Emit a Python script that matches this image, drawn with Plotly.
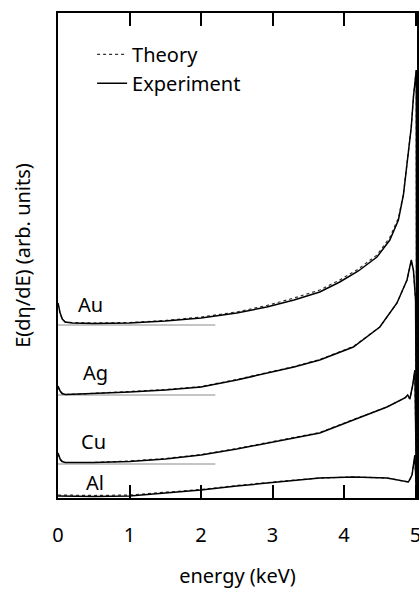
import plotly.graph_objects as go

FONT = "Noto Sans"

# energy grid points (keV) and curve heights (arb. units)
au_e = [0.00, 0.03, 0.06, 0.10, 0.2, 0.5, 1.0, 1.5, 2.0, 2.5, 2.92, 3.3, 3.66, 3.94, 4.2, 4.46, 4.64, 4.76, 4.83, 4.88, 4.94, 4.97, 4.99, 5.01, 5.015]
au_exp = [195, 185, 179, 176, 175, 174.5, 175, 177, 180, 185, 191, 198, 206, 216, 227, 241, 258, 278, 303, 336, 371, 401, 418, 428, 0]
au_th = [194, 184, 179, 176, 175.5, 175, 175.5, 177.5, 181, 186, 192.5, 200, 208, 218, 229, 243, 260.5, 280, 304, 336, 371, 401, 418, 428, 0]

ag_e = [0.00, 0.03, 0.06, 0.10, 0.3, 0.7, 1.0, 1.5, 2.0, 2.5, 2.92, 3.3, 3.66, 4.13, 4.5, 4.74, 4.88, 4.94, 4.97, 5.0, 5.015]
ag_exp = [112, 107, 104.5, 103.5, 104, 105, 106, 108, 111, 118, 125, 131, 138, 151, 171, 195, 218, 238, 228, 198, 0]
ag_th = [111, 106, 104, 103.5, 104, 105, 106.5, 108.5, 111.5, 118.5, 125.5, 131.5, 138.5, 151.5, 171, 195, 218, 237, 228, 198, 0]

cu_e = [0.00, 0.03, 0.06, 0.10, 0.5, 1.0, 1.5, 2.0, 2.5, 2.92, 3.3, 3.66, 4.13, 4.6, 4.85, 4.89, 4.92, 4.96, 4.99, 5.015]
cu_exp = [45, 39, 36.5, 35.5, 35.5, 36.5, 39, 43, 49, 55, 60, 65, 78, 91, 100, 103, 99, 113, 128, 0]
cu_th = [44, 38, 36, 35.5, 35.5, 37, 39.5, 43.5, 49.5, 55.5, 60.5, 65.5, 78.5, 91, 100, 102, 99, 112, 127, 0]

al_e = [0.00, 0.5, 1.0, 1.5, 2.0, 2.5, 2.92, 3.3, 3.66, 4.13, 4.6, 4.9, 4.95, 4.99, 5.015]
al_exp = [2, 1.5, 2, 5, 8, 12, 15, 18, 20, 21, 20, 16, 23, 43, 0]
al_th = [3, 2.5, 3, 5.5, 8.5, 12.5, 15.5, 18, 20, 21, 20, 16, 22, 42, 0]

# reference baselines (zero level of each offset spectrum)
base_e = [0.0, 2.2]
base_levels = {"Au": 173, "Ag": 103, "Cu": 34}

# element label positions
labels = ["Au", "Ag", "Cu", "Al"]
label_e = [0.46, 0.52, 0.50, 0.52]
label_y = [194, 126, 57, 16]

tick_vals = [0, 1, 2, 3, 4, 5]
tick_text = ["0", "1", "2", "3", "4", "5"]

fig = go.Figure()

for name, lvl in base_levels.items():
    fig.add_trace(go.Scatter(x=base_e, y=[lvl, lvl], mode="lines",
                             line=dict(color="#8a8a8a", width=1), showlegend=False, hoverinfo="skip"))

series = [(au_e, au_exp, au_th), (ag_e, ag_exp, ag_th), (cu_e, cu_exp, cu_th), (al_e, al_exp, al_th)]
for i, (e, ex, th) in enumerate(series):
    fig.add_trace(go.Scatter(x=e, y=th, mode="lines", name="Theory",
                             line=dict(color="#333333", width=1.2, dash="dot"),
                             showlegend=(i == 0), legendrank=1))
    fig.add_trace(go.Scatter(x=e, y=ex, mode="lines", name="Experiment",
                             line=dict(color="black", width=1.5),
                             showlegend=(i == 0), legendrank=2))

for t, xe, yv in zip(labels, label_e, label_y):
    fig.add_annotation(x=xe, y=yv, text=t, showarrow=False, xanchor="center", yanchor="middle",
                       font=dict(family=FONT, size=20, color="black"))

fig.update_layout(
    width=419, height=592,
    margin=dict(l=58, r=2, t=13, b=94),
    paper_bgcolor="white", plot_bgcolor="white",
    font=dict(family=FONT, size=20, color="black"),
    legend=dict(x=0.095, y=0.955, xanchor="left", yanchor="top",
                bgcolor="rgba(0,0,0,0)", borderwidth=0, itemwidth=30,
                font=dict(family=FONT, size=20), tracegroupgap=0),
    showlegend=True,
)

fig.update_xaxes(range=[0, 5.02], tickvals=tick_vals, ticktext=tick_text,
                 ticks="inside", ticklen=13, tickwidth=1.5, tickcolor="black",
                 showline=True, linewidth=1.5, linecolor="black", mirror="ticks",
                 showgrid=False, zeroline=False, ticklabelstandoff=18, automargin=False,
                 ticklabeloverflow="allow",
                 tickfont=dict(family=FONT, size=20),
                 title=dict(text="energy (keV)", standoff=22, font=dict(family=FONT, size=20)))

fig.update_yaxes(range=[0, 485], showticklabels=False, ticks="", automargin=False,
                 showline=True, linewidth=1.5, linecolor="black", mirror=True,
                 showgrid=False, zeroline=False,
                 title=dict(text="E(dη/dE) (arb. units)", standoff=20, font=dict(family=FONT, size=20)))

fig.write_html("out.html", config={"displayModeBar": False},
               post_script="document.body.style.margin='0';document.body.style.overflow='hidden';")
